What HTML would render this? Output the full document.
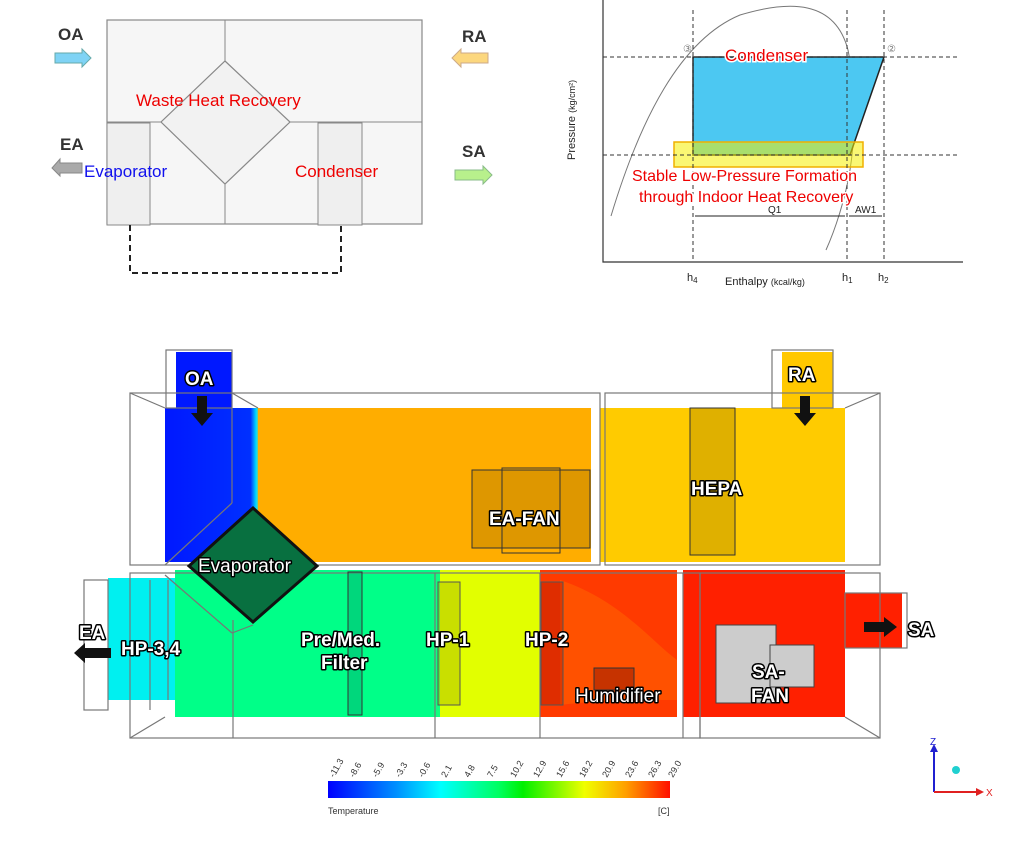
<!DOCTYPE html>
<html><head><meta charset="utf-8"><style>
html,body{margin:0;padding:0;background:#fff;width:1009px;height:851px;overflow:hidden}
svg{display:block}
text{font-family:"Liberation Sans",sans-serif}
.lb{font-weight:bold;font-size:19px;fill:#fff;stroke:#000;stroke-width:3px;paint-order:stroke;stroke-linejoin:round}
.wf{fill:none;stroke:#777;stroke-width:1.2}
</style></head><body>
<svg width="1009" height="851" viewBox="0 0 1009 851" xmlns="http://www.w3.org/2000/svg">
<defs>
<linearGradient id="lg" x1="0" x2="1">
<stop offset="0" stop-color="#0000ff"/><stop offset="0.2" stop-color="#0090ff"/><stop offset="0.33" stop-color="#00ffff"/><stop offset="0.5" stop-color="#00ff60"/><stop offset="0.57" stop-color="#00f000"/><stop offset="0.75" stop-color="#f0ff00"/><stop offset="0.87" stop-color="#ffa000"/><stop offset="1" stop-color="#ff1000"/>
</linearGradient>
<linearGradient id="bo" x1="0" x2="1"><stop offset="0" stop-color="#0018ff"/><stop offset="0.9" stop-color="#0030ff"/><stop offset="0.96" stop-color="#00e0ff"/><stop offset="1" stop-color="#ffb000"/></linearGradient>
<linearGradient id="gy" x1="0" x2="1"><stop offset="0" stop-color="#00ff88"/><stop offset="1" stop-color="#e0ff00"/></linearGradient>
</defs>

<!-- TOP LEFT schematic -->
<rect x="107" y="20" width="315" height="204" fill="#f6f6f6" stroke="#888" stroke-width="1.2"/>
<line x1="107" y1="122" x2="422" y2="122" stroke="#888"/>
<line x1="225" y1="20" x2="225" y2="61" stroke="#888"/>
<line x1="225" y1="184" x2="225" y2="224" stroke="#888"/>
<polygon points="225,61 290,122 225,184 161,122" fill="#f2f2f2" stroke="#888" stroke-width="1.2"/>
<rect x="107" y="123" width="43" height="102" fill="#efefef" stroke="#888"/>
<rect x="318" y="123" width="44" height="102" fill="#efefef" stroke="#888"/>
<path d="M130 225 V273 H341 V225" fill="none" stroke="#222" stroke-width="2" stroke-dasharray="6,4"/>
<text x="58" y="40" font-size="17" font-weight="bold" fill="#333">OA</text>
<path d="M55 53 H82 V49 L91 58 L82 67 V63 H55 Z" fill="#7fd3f5" stroke="#6aa" stroke-width="1"/>
<text x="462" y="42" font-size="17" font-weight="bold" fill="#333">RA</text>
<path d="M488 53 H461 V49 L452 58 L461 67 V63 H488 Z" fill="#fcd77e" stroke="#ca8" stroke-width="1"/>
<text x="60" y="150" font-size="17" font-weight="bold" fill="#333">EA</text>
<path d="M82 163 H60 V159 L52 168 L60 176 V173 H82 Z" fill="#aaa" stroke="#888" stroke-width="1"/>
<text x="462" y="157" font-size="17" font-weight="bold" fill="#333">SA</text>
<path d="M455 170 H483 V166 L492 175 L483 184 V180 H455 Z" fill="#b8f08c" stroke="#8b8" stroke-width="1"/>
<text x="136" y="106" font-size="17" fill="#ee0000">Waste Heat Recovery</text>
<text x="84" y="177" font-size="17" fill="#1010ee">Evaporator</text>
<text x="295" y="177" font-size="17" fill="#ee0000">Condenser</text>

<!-- P-h diagram -->
<path d="M611 216 C640 120 680 40 740 15 C790 0 835 0 848 50 C852 70 858 120 850 170 C845 200 835 230 826 250" fill="none" stroke="#777" stroke-width="1"/>
<polygon points="693,57 884,57 850,155 693,155" fill="#4cc8f2" stroke="#222" stroke-width="1.5"/>
<rect x="674" y="142" width="189" height="25" fill="#f6f000" fill-opacity="0.55" stroke="#f0b000" stroke-width="1.5"/>
<g stroke="#333" stroke-width="1" stroke-dasharray="4,3">
<line x1="603" y1="57" x2="960" y2="57"/><line x1="603" y1="155" x2="960" y2="155"/>
<line x1="693" y1="10" x2="693" y2="262"/><line x1="847" y1="10" x2="847" y2="262"/><line x1="884" y1="10" x2="884" y2="262"/>
</g>
<path d="M603 0 V262 H963" fill="none" stroke="#333" stroke-width="1.2"/>
<line x1="695" y1="216" x2="845" y2="216" stroke="#222"/><line x1="849" y1="216" x2="882" y2="216" stroke="#222"/>
<text x="768" y="213" font-size="10" fill="#222">Q1</text>
<text x="855" y="213" font-size="10" fill="#222">AW1</text>
<text x="683" y="52" font-size="10" fill="#777">③</text>
<text x="887" y="52" font-size="10" fill="#777">②</text>
<text x="725" y="61" font-size="17" fill="#ee0000" stroke="#fff" stroke-width="3" paint-order="stroke">Condenser</text>
<text x="632" y="181" font-size="16" fill="#ee0000" stroke="#fff" stroke-width="3" paint-order="stroke">Stable Low-Pressure Formation</text>
<text x="639" y="202" font-size="16" fill="#ee0000" stroke="#fff" stroke-width="3" paint-order="stroke">through Indoor Heat Recovery</text>
<text x="687" y="281" font-size="11" fill="#222">h<tspan font-size="8" dy="2">4</tspan></text>
<text x="842" y="281" font-size="11" fill="#222">h<tspan font-size="8" dy="2">1</tspan></text>
<text x="878" y="281" font-size="11" fill="#222">h<tspan font-size="8" dy="2">2</tspan></text>
<text x="725" y="285" font-size="11" fill="#222">Enthalpy <tspan font-size="9">(kcal/kg)</tspan></text>
<text transform="translate(575,160) rotate(-90)" font-size="11" fill="#222">Pressure <tspan font-size="9">(kg/cm²)</tspan></text>

<!-- CFD model -->
<rect x="176" y="352" width="56" height="56" fill="#0018ff"/>
<rect x="782" y="352" width="51" height="56" fill="#ffc800"/>
<rect x="165" y="408" width="95" height="154" fill="url(#bo)"/>
<rect x="258" y="408" width="333" height="154" fill="#ffad00"/>
<rect x="600" y="408" width="245" height="154" fill="#ffcb00"/>
<rect x="108" y="578" width="70" height="122" fill="#00f0f0"/>
<rect x="175" y="570" width="260" height="147" fill="#00ff88"/>
<rect x="430" y="570" width="110" height="147" fill="url(#gy)"/>
<rect x="440" y="570" width="100" height="147" fill="#e2ff00"/>
<rect x="540" y="570" width="137" height="147" fill="#ff3a00"/>
<path d="M560 580 C620 600 650 640 677 660 V700 C640 700 600 700 560 705 Z" fill="#ff6000" opacity="0.6"/>
<rect x="683" y="570" width="162" height="147" fill="#ff2000"/>
<rect x="845" y="593" width="57" height="55" fill="#ff2000"/>
<!-- frames -->
<g class="wf">
<rect x="130" y="393" width="470" height="172"/><rect x="605" y="393" width="275" height="172"/>
<rect x="130" y="573" width="570" height="165"/><rect x="700" y="573" width="180" height="165"/>
<rect x="166" y="350" width="66" height="58"/><rect x="772" y="350" width="61" height="58"/>
<rect x="84" y="580" width="24" height="130"/><rect x="845" y="593" width="62" height="55"/>
<line x1="130" y1="393" x2="165" y2="408"/><line x1="880" y1="393" x2="845" y2="408"/>
<line x1="232" y1="393" x2="258" y2="408"/>
<line x1="130" y1="738" x2="165" y2="717"/><line x1="880" y1="738" x2="845" y2="717"/>
<line x1="233" y1="620" x2="233" y2="738"/><line x1="435" y1="573" x2="435" y2="738"/>
<line x1="540" y1="573" x2="540" y2="738"/><line x1="683" y1="573" x2="683" y2="738"/>
<line x1="150" y1="580" x2="150" y2="710"/><line x1="168" y1="580" x2="168" y2="700"/>
<line x1="232" y1="408" x2="232" y2="503"/><line x1="232" y1="503" x2="165" y2="565"/>
<line x1="165" y1="575" x2="232" y2="633"/><line x1="232" y1="633" x2="253" y2="625"/>
</g>
<rect x="690" y="408" width="45" height="147" fill="#b89000" fill-opacity="0.45" stroke="#333"/>
<rect x="472" y="470" width="118" height="78" fill="#a07000" fill-opacity="0.35" stroke="#333"/>
<rect x="502" y="468" width="58" height="85" fill="none" stroke="#333"/>
<rect x="348" y="572" width="14" height="143" fill="#00b070" fill-opacity="0.5" stroke="#333"/>
<rect x="438" y="582" width="22" height="123" fill="#b0c000" fill-opacity="0.5" stroke="#555"/>
<rect x="541" y="582" width="22" height="123" fill="#c02000" fill-opacity="0.5" stroke="#555"/>
<rect x="716" y="625" width="60" height="78" fill="#ccc" stroke="#444"/>
<rect x="770" y="645" width="44" height="42" fill="#ccc" stroke="#444"/>
<rect x="594" y="668" width="40" height="22" fill="#a02000" fill-opacity="0.6" stroke="#333"/>
<polygon points="253,508 317,566 253,622 189,566" fill="#087040" stroke="#111" stroke-width="3"/>
<!-- arrows -->
<path d="M197 396 H207 V413 H213 L202 426 L191 413 H197 Z" fill="#111"/>
<path d="M800 396 H810 V413 H816 L805 426 L794 413 H800 Z" fill="#111"/>
<path d="M111 648 V658 H85 V663 L74 653 L85 643 V648 Z" fill="#111"/>
<path d="M864 622 V632 H884 V637 L897 627 L884 617 V622 Z" fill="#111"/>
<!-- labels -->
<text class="lb" x="185" y="385">OA</text>
<text class="lb" x="788" y="381">RA</text>
<text class="lb" x="489" y="525">EA-FAN</text>
<text class="lb" x="691" y="495">HEPA</text>
<text class="lb" x="198" y="572" font-size="17" style="font-weight:normal">Evaporator</text>
<text class="lb" x="79" y="639">EA</text>
<text class="lb" x="121" y="655">HP-3,4</text>
<text class="lb" x="301" y="646">Pre/Med.</text>
<text class="lb" x="321" y="669">Filter</text>
<text class="lb" x="426" y="646">HP-1</text>
<text class="lb" x="525" y="646">HP-2</text>
<text class="lb" x="575" y="702" font-size="17" style="font-weight:normal">Humidifier</text>
<text class="lb" x="752" y="678">SA-</text>
<text class="lb" x="751" y="702">FAN</text>
<text class="lb" x="908" y="636">SA</text>
<!-- legend -->
<rect x="328" y="781" width="342" height="17" fill="url(#lg)"/>
<g font-size="9" fill="#333">
<text transform="translate(334,778) rotate(-60)">-11.3</text><text transform="translate(354,778) rotate(-60)">-8.6</text>
<text transform="translate(377,778) rotate(-60)">-5.9</text><text transform="translate(400,778) rotate(-60)">-3.3</text>
<text transform="translate(423,778) rotate(-60)">-0.6</text><text transform="translate(446,778) rotate(-60)">2.1</text>
<text transform="translate(469,778) rotate(-60)">4.8</text><text transform="translate(492,778) rotate(-60)">7.5</text>
<text transform="translate(515,778) rotate(-60)">10.2</text><text transform="translate(538,778) rotate(-60)">12.9</text>
<text transform="translate(561,778) rotate(-60)">15.6</text><text transform="translate(584,778) rotate(-60)">18.2</text>
<text transform="translate(607,778) rotate(-60)">20.9</text><text transform="translate(630,778) rotate(-60)">23.6</text>
<text transform="translate(653,778) rotate(-60)">26.3</text><text transform="translate(673,778) rotate(-60)">29.0</text>
<text x="328" y="814">Temperature</text><text x="658" y="814">[C]</text>
</g>
<!-- axes -->
<line x1="934" y1="792" x2="934" y2="750" stroke="#2020d0" stroke-width="2"/>
<line x1="934" y1="792" x2="978" y2="792" stroke="#e02020" stroke-width="2"/>
<polygon points="930,752 938,752 934,744" fill="#2020d0"/><polygon points="976,788 976,796 984,792" fill="#e02020"/>
<circle cx="956" cy="770" r="4" fill="#20d0d0"/>
<text x="930" y="745" font-size="10" fill="#2020d0">Z</text><text x="986" y="796" font-size="10" fill="#e02020">X</text>
</svg>
</body></html>
